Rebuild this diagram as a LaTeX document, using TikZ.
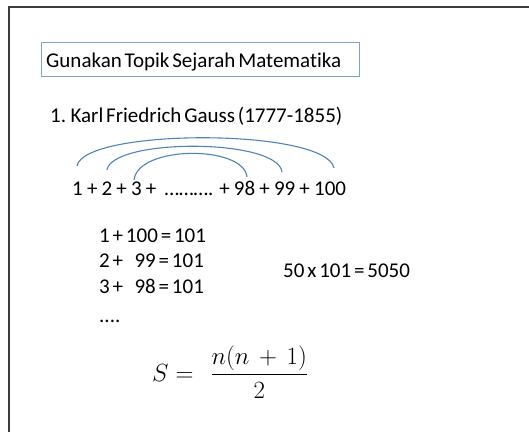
\documentclass[tikz,border=0pt]{standalone}
\usepackage{amsmath}
\usepackage{fontspec}
\setmainfont{Carlito}[Ligatures=NoCommon, WordSpace=0.6]
\newfontfamily\sumfont{Carlito}[Ligatures=NoCommon, WordSpace=0.88]
\usepackage{tikz}
\usetikzlibrary{positioning}
\definecolor{framegray}{RGB}{60,60,60}
\definecolor{boxblue}{RGB}{126,160,207}
\definecolor{arcblue}{RGB}{79,129,189}
\tikzset{
  txt/.style={anchor=base west, inner sep=0pt, font=\fontsize{21}{24}\selectfont},
  arc/.style={arcblue, line width=1.1pt}
}

\begin{document}
\begin{tikzpicture}[x=1pt,y=-1pt]
\useasboundingbox (0,0) rectangle (529,432);
\draw[framegray, line width=2pt] (529,7) -- (9,7) -- (9,432);
\node[draw=boxblue, line width=1.2pt, minimum width=318pt, minimum height=34pt,
  anchor=north west, inner sep=0pt] (titlebox) at (41,42) {};
\node[txt] (title) at (46,67) {Gunakan Topik Sejarah Matematika};
\node[txt] (gauss) at (50,122) {1. Karl Friedrich Gauss (1777-1855)};
\node[txt, font=\fontsize{21}{24}\sumfont] (sum) at (72,195) {1 + 2 + 3 +\ \ ………. + 98 + 99 + 100};
% ends of the arcs
\coordinate (a1) at (77,166);
\coordinate (a100) at (334,168);
\coordinate (a2) at (107,170);
\coordinate (a99) at (282,172);
\coordinate (a3) at (134,180);
\coordinate (a98) at (247,177);
\draw[arc] (a1) .. controls (84,128) and (326,128) .. (a100);
\draw[arc] (a2) .. controls (112,138) and (278,138) .. (a99);
\draw[arc] (a3) .. controls (138,145) and (244,145) .. (a98);
\node[txt] (p1) at (99,242) {1 + 100 = 101};
\node[txt] (p2) at (99,267) {2 +\ \ \ \ 99 = 101};
\node[txt] (p3) at (99,293) {3 +\ \ \ \ 98 = 101};
\node[txt] (dots) at (99,322) {....};
\node[txt] (prod) at (283,277) {50 x 101 = 5050};
\node[anchor=base west, inner sep=0pt, font=\fontsize{23}{26}\selectfont] (formula) at (152,381)
  {$S = \ \;\dfrac{n(n\,+\,1)}{2}$};
\end{tikzpicture}
\end{document}
